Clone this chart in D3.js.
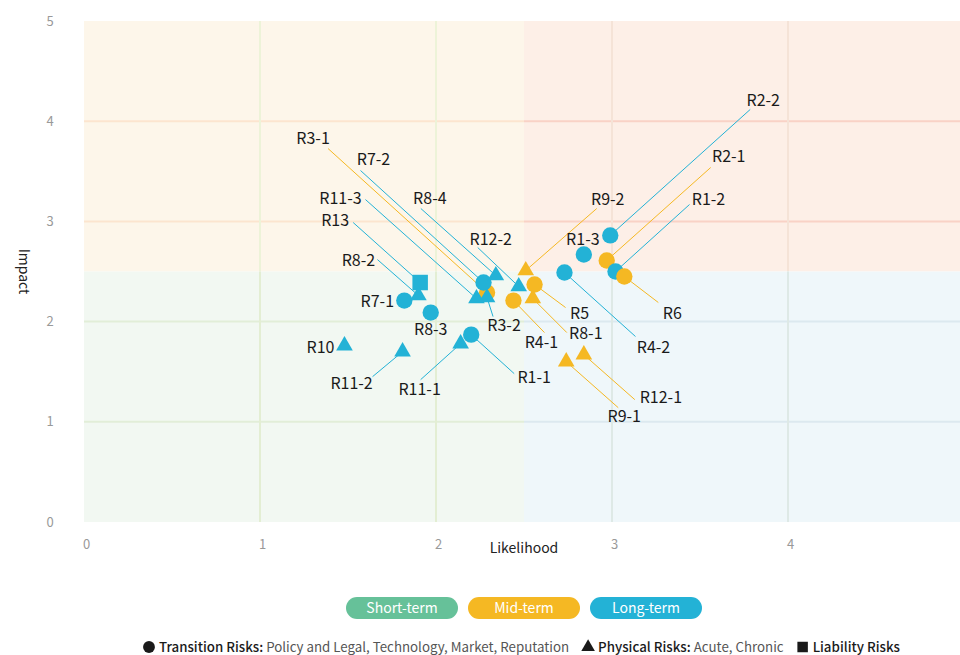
<!DOCTYPE html>
<html>
<head>
<meta charset="utf-8">
<script src="https://cdn.jsdelivr.net/npm/d3@7/dist/d3.min.js"></script>
<style>
  body { margin: 0; background: #fff; }
  svg { display: block; font-family: "Noto Sans CJK SC", "Noto Sans", sans-serif; }
</style>
</head>
<body>
<div id="wrapper"></div>
<script>
// risk items (array order = draw order)
const names = ["R2-1", "R3-1", "R1-1", "R1-2", "R1-3", "R2-2", "R3-2", "R4-1", "R4-2",
  "R7-1", "R7-2", "R8-1", "R13", "R8-2", "R8-3", "R8-4", "R9-1", "R9-2", "R10",
  "R11-1", "R11-2", "R11-3", "R12-1", "R12-2", "R5", "R6"]
const likelihood = [2.97, 2.29, 2.20, 3.02, 2.84, 2.99, 2.29, 2.44, 2.73,
  1.82, 2.27, 2.55, 1.91, 1.90, 1.97, 2.34, 2.74, 2.51, 1.48,
  2.14, 1.81, 2.23, 2.84, 2.47, 2.56, 3.07]
const impact = [2.61, 2.29, 1.87, 2.50, 2.67, 2.86, 2.24, 2.21, 2.49,
  2.21, 2.39, 2.23, 2.39, 2.26, 2.09, 2.46, 1.60, 2.51, 1.76,
  1.78, 1.70, 2.23, 1.67, 2.35, 2.37, 2.45]
const terms = ["mid", "mid", "long", "long", "long", "long", "long", "mid", "long",
  "long", "long", "mid", "long", "long", "long", "long", "mid", "mid", "long",
  "long", "long", "long", "mid", "long", "mid", "mid"]
const riskTypes = ["transition", "transition", "transition", "transition", "transition", "transition", "physical", "transition", "transition",
  "transition", "transition", "physical", "liability", "physical", "transition", "physical", "physical", "physical", "physical",
  "physical", "physical", "physical", "physical", "physical", "transition", "transition"]

// label placement: text centre offset and leader line start offset (px from the point)
const labelLayout = {
  "R1-1": [63, 43, 43, 39], "R1-2": [93, -72, 74, -67], "R1-3": [-1, -15],
  "R2-1": [122, -104, 104, -93], "R2-2": [153, -135, 140, -126],
  "R3-1": [-174, -154, -159, -144], "R3-2": [17, 28, 6, 19],
  "R4-1": [28, 42, 31, 32], "R4-2": [89, 75, 71, 64], "R5": [45, 29, 31, 23],
  "R6": [48, 37, 34, 26], "R7-1": [-27, 1], "R7-2": [-110, -123, -123, -112],
  "R8-1": [53, 35, 34, 34], "R8-2": [-60, -35, -41, -36], "R8-3": [0, 17],
  "R8-4": [-66, -77, -75, -67], "R9-1": [58, 55, 52, 46], "R9-2": [82, -71, 71, -62],
  "R10": [-24, 2], "R11-1": [-41, 46, -40, 36], "R11-2": [-51, 32, -30, 25],
  "R11-3": [-136, -100, -111, -99], "R12-1": [77, 43, 51, 45],
  "R12-2": [-28, -47, -41, -39], "R13": [-85, -62, -67, -60]
}

const xTicks = [0, 1, 2, 3, 4, 5]
const yTicks = [0, 1, 2, 3, 4, 5]
const termNames = ["short", "mid", "long"]
const termLabels = ["Short-term", "Mid-term", "Long-term"]

const colors = { short: "#66c199", mid: "#f5b823", long: "#23b2d6" }

function draw() {
  const dimensions = { width: 960, height: 655 }

  const wrapper = d3.select("#wrapper").append("svg")
    .attr("width", dimensions.width)
    .attr("height", dimensions.height)

  const xScale = d3.scaleLinear().domain([0, 5]).range([84, 964])
  const yScale = d3.scaleLinear().domain([0, 5]).range([522, 21])

  // quadrants
  const quads = [
    { x: [0, 2.5], y: [2.5, 5], bg: "#fdf6ea", h: "#fce5cf", v: "#edf3d8" },
    { x: [2.5, 5], y: [2.5, 5], bg: "#fdefe7", h: "#f9d2c6", v: "#f5e3d7" },
    { x: [0, 2.5], y: [0, 2.5], bg: "#f2f8f2", h: "#e2eed8", v: "#e3eed3" },
    { x: [2.5, 5], y: [0, 2.5], bg: "#eff7fa", h: "#dce9ef", v: "#dee9e6" },
  ]
  const grid = wrapper.append("g")
  quads.forEach(q => {
    grid.append("rect")
      .attr("x", xScale(q.x[0])).attr("y", yScale(q.y[1]))
      .attr("width", xScale(q.x[1]) - xScale(q.x[0]))
      .attr("height", yScale(q.y[0]) - yScale(q.y[1]))
      .attr("fill", q.bg)
    yTicks.filter(t => t > q.y[0] && t < q.y[1]).forEach(t => {
      grid.append("line")
        .attr("x1", xScale(q.x[0])).attr("x2", xScale(q.x[1]))
        .attr("y1", yScale(t)).attr("y2", yScale(t))
        .attr("stroke", q.h).attr("stroke-width", 2)
    })
    xTicks.filter(t => t > q.x[0] && t < q.x[1]).forEach(t => {
      grid.append("line")
        .attr("x1", xScale(t)).attr("x2", xScale(t))
        .attr("y1", yScale(q.y[0])).attr("y2", yScale(q.y[1]))
        .attr("stroke", q.v).attr("stroke-width", 2)
    })
  })

  // axes
  const xAxis = wrapper.append("g")
    .attr("transform", "translate(0,540)")
    .call(d3.axisBottom(xScale).tickValues(xTicks).tickSize(0).tickPadding(0).tickFormat(d3.format("d")))
  const yAxis = wrapper.append("g")
    .attr("transform", "translate(55,0)")
    .call(d3.axisLeft(yScale).tickValues(yTicks).tickSize(0).tickPadding(0).tickFormat(d3.format("d")))
  ;[xAxis, yAxis].forEach(a => {
    a.select(".domain").remove()
    a.selectAll("text").attr("fill", "#999").style("font-size", "13px")
      .style("font-family", "'Noto Sans CJK SC', sans-serif")
  })
  yAxis.selectAll("text").attr("x", -5).attr("text-anchor", "middle")
  xAxis.selectAll("text").attr("dx", 2)

  wrapper.append("text")
    .attr("x", 524).attr("y", 553)
    .attr("text-anchor", "middle")
    .attr("fill", "#222").style("font-size", "14px")
    .text("Likelihood")
  wrapper.append("text")
    .attr("transform", `translate(19, ${yScale(2.5)}) rotate(90)`)
    .attr("text-anchor", "middle")
    .attr("fill", "#222").style("font-size", "14px")
    .text("Impact")

  const dataset = names.map((n, i) => ({
    name: n, x: likelihood[i], y: impact[i], term: terms[i], type: riskTypes[i],
    layout: labelLayout[n]
  }))

  // leader lines
  const bounds = wrapper.append("g")
  bounds.selectAll("line.leader")
    .data(dataset.filter(d => d.layout.length === 4))
    .join("line")
      .attr("class", "leader")
      .attr("x1", d => xScale(d.x)).attr("y1", d => yScale(d.y))
      .attr("x2", d => xScale(d.x) + d.layout[2])
      .attr("y2", d => yScale(d.y) + d.layout[3])
      .attr("stroke", d => colors[d.term]).attr("stroke-width", 1)

  // points
  const symbolFor = { transition: d3.symbolCircle, physical: d3.symbolTriangle, liability: d3.symbolSquare }
  const sizeFor = { transition: 210, physical: 120, liability: 240 }
  bounds.selectAll("path.pt")
    .data(dataset)
    .join("path")
      .attr("class", "pt")
      .attr("transform", d => `translate(${xScale(d.x)},${yScale(d.y)})`)
      .attr("d", d => d3.symbol().type(symbolFor[d.type]).size(sizeFor[d.type])())
      .attr("fill", d => colors[d.term])

  // labels
  bounds.selectAll("text.lbl")
    .data(dataset)
    .join("text")
      .attr("class", "lbl")
      .attr("x", d => xScale(d.x) + d.layout[0])
      .attr("y", d => yScale(d.y) + d.layout[1])
      .attr("dy", "0.35em")
      .attr("text-anchor", "middle")
      .attr("fill", "#1a1a1a")
      .style("font-size", "16px")
      .text(d => d.name)

  // term legend
  const pillW = 112, pillH = 22
  const legend = wrapper.append("g")
  termNames.forEach((t, i) => {
    const cx = 402 + i * 122
    legend.append("rect")
      .attr("x", cx - pillW / 2).attr("y", 597)
      .attr("width", pillW).attr("height", pillH)
      .attr("rx", 11)
      .attr("fill", colors[t])
    legend.append("text")
      .attr("x", cx).attr("y", 608).attr("dy", "0.35em")
      .attr("text-anchor", "middle")
      .attr("fill", "#fff").style("font-size", "14px")
      .text(termLabels[i])
  })

  // risk type legend
  const typeLegend = [
    { type: "transition", bold: "Transition Risks:", rest: " Policy and Legal, Technology, Market, Reputation" },
    { type: "physical", bold: "Physical Risks:", rest: " Acute, Chronic" },
    { type: "liability", bold: "Liability Risks", rest: "" },
  ]
  const tl = wrapper.append("g")
  let cursor = 143
  typeLegend.forEach(item => {
    tl.append("path")
      .attr("transform", `translate(${cursor + 6},647)`)
      .attr("d", d3.symbol().type(symbolFor[item.type]).size(item.type === "physical" ? 80 : 110)())
      .attr("fill", "#1a1a1a")
    const txt = tl.append("text")
      .attr("x", cursor + 16).attr("y", 647).attr("dy", "0.35em")
      .style("font-size", "13.3px")
    txt.append("tspan").attr("fill", "#1a1a1a").style("font-weight", 500).text(item.bold)
    txt.append("tspan").attr("fill", "#555").text(item.rest)
    cursor += 16 + txt.node().getComputedTextLength() + 13
  })
}
draw()
</script>
</body>
</html>
